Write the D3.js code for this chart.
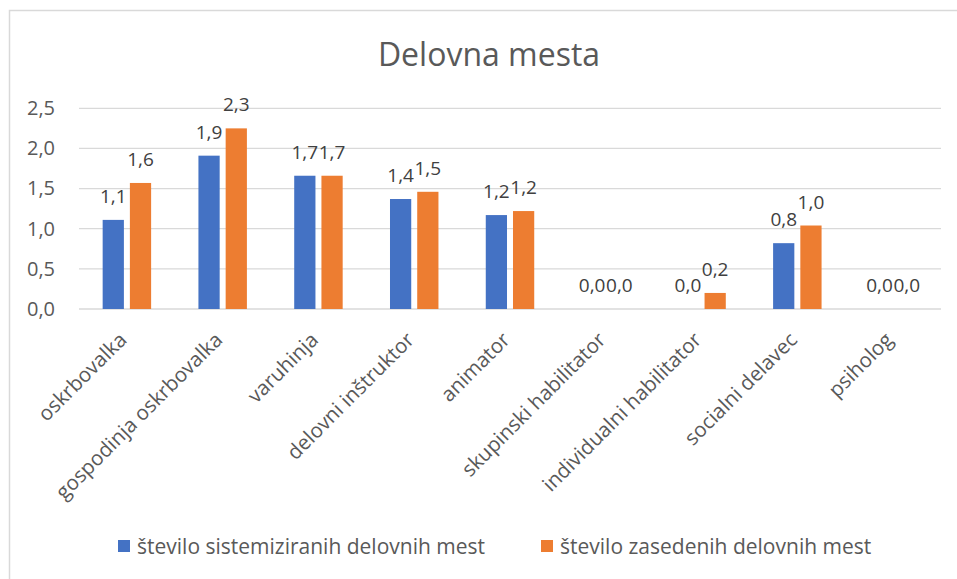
<!DOCTYPE html>
<html>
<head>
<meta charset="utf-8">
<script src="https://cdn.jsdelivr.net/npm/d3@7/dist/d3.min.js"></script>
<style>
  html, body { margin: 0; padding: 0; background: #fff; }
  svg { display: block; font-family: "Open Sans", sans-serif; }
</style>
</head>
<body>
<svg id="chart" width="957" height="579"></svg>
<script>
const categories = ["oskrbovalka", "gospodinja oskrbovalka", "varuhinja", "delovni inštruktor", "animator", "skupinski habilitator", "individualni habilitator", "socialni delavec", "psiholog"];
const seriesNames = ["število sistemiziranih delovnih mest", "število zasedenih delovnih mest"];
const sistemizirana = [1.11, 1.91, 1.66, 1.37, 1.17, 0.0, 0.0, 0.82, 0.0];
const zasedena = [1.57, 2.25, 1.66, 1.46, 1.22, 0.0, 0.2, 1.04, 0.0];
const yTicks = [0, 0.5, 1.0, 1.5, 2.0, 2.5];
const colors = ["#4472C4", "#ED7D31"];
const title = "Delovna mesta";

const svg = d3.select("#chart");
const W = 957, H = 579;

// chart border
svg.append("path")
  .attr("d", `M9.5,${H} L9.5,10.5 L${W},10.5`)
  .attr("fill", "none").attr("stroke", "#d9d9d9").attr("stroke-width", 1.5);

const plot = { left: 79, right: 941, top: 108.3, bottom: 309 };

const x0 = d3.scaleBand().domain(categories).range([plot.left, plot.right]).paddingInner(0.494).paddingOuter(0.247);
const x1 = d3.scaleBand().domain([0, 1]).range([0, x0.bandwidth()]).paddingInner(0.22).paddingOuter(0);
const y = d3.scaleLinear().domain([0, 2.5]).range([plot.bottom, plot.top]);

const fmt = v => d3.format(".1f")(v).replace(".", ",");

// title
svg.append("text").attr("x", 489).attr("y", 66).attr("text-anchor", "middle")
  .attr("fill", "#595959").style("font-size", "32px").text(title);

// gridlines
svg.append("g").selectAll("line").data(yTicks).join("line")
  .attr("x1", plot.left).attr("x2", plot.right)
  .attr("y1", d => y(d)).attr("y2", d => y(d))
  .attr("stroke", "#d9d9d9").attr("stroke-width", 1.3);

// y axis labels
const yAxis = d3.axisLeft(y).tickValues(yTicks).tickFormat(fmt).tickSize(0).tickPadding(0);
const ya = svg.append("g").attr("transform", "translate(55,0)").call(yAxis);
ya.select(".domain").remove();
ya.selectAll("text").attr("fill", "#595959").style("font-size", "20px").style("font-family", "Open Sans");

// bars
const series = [sistemizirana, zasedena];
const groups = svg.append("g").selectAll("g").data(categories).join("g")
  .attr("transform", d => `translate(${x0(d)},0)`);

groups.selectAll("rect").data((d, i) => series.map((s, k) => ({ k, v: s[i] }))).join("rect")
  .attr("x", d => x1(d.k)).attr("width", x1.bandwidth())
  .attr("y", d => y(d.v)).attr("height", d => y(0) - y(d.v))
  .attr("fill", d => colors[d.k]);

groups.selectAll("text").data((d, i) => series.map((s, k) => ({ k, v: s[i] }))).join("text")
  .attr("x", d => x1(d.k) + x1.bandwidth() / 2)
  .attr("y", d => y(d.v) - 17)
  .attr("text-anchor", "middle").attr("fill", "#404040").style("font-size", "19px")
  .text(d => fmt(d.v));

// x axis labels
const xAxis = d3.axisBottom(x0).tickSize(0).tickPadding(0);
const xa = svg.append("g").attr("transform", `translate(0,${plot.bottom})`).call(xAxis);
xa.select(".domain").remove();
xa.selectAll("text")
  .attr("text-anchor", "end").attr("fill", "#595959")
  .style("font-size", "20.5px").style("font-family", "Open Sans")
  .attr("transform", "translate(-4,27) rotate(-45)")
  .attr("x", 0).attr("y", 0).attr("dy", "0.35em");

// legend
const legendX = [118, 541];
const lg = svg.append("g").selectAll("g").data(seriesNames).join("g")
  .attr("transform", (d, i) => `translate(${legendX[i]},540)`);
lg.append("rect").attr("width", 12).attr("height", 12).attr("fill", (d, i) => colors[i]);
lg.append("text").attr("x", 19).attr("y", 6.5).attr("dy", "0.35em")
  .attr("fill", "#595959").style("font-size", "21px").text(d => d);
</script>
</body>
</html>
